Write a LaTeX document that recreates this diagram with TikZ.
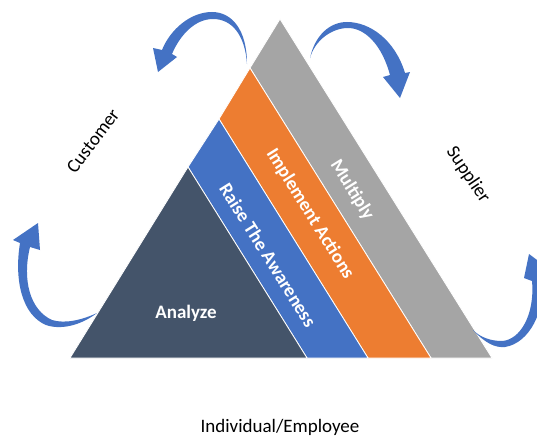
\documentclass[tikz,border=0pt]{standalone}
\usepackage{fontspec}
\setmainfont{Carlito}
\definecolor{cdark}{HTML}{44546A}
\definecolor{cblue}{HTML}{4472C4}
\definecolor{corange}{HTML}{ED7D31}
\definecolor{cgray}{HTML}{A5A5A5}
\begin{document}
\begin{tikzpicture}[x=1pt,y=-1pt,
  band/.style={draw=white, line width=0.8pt, line join=round},
  curarrow/.style={fill=cblue},
  bandlabel/.style={text=white, font=\fontsize{19}{23}\selectfont\bfseries, inner sep=0pt},
  sidelabel/.style={text=black, font=\fontsize{19}{23}\selectfont, inner sep=0pt}]
\clip (0,0) rectangle (537,436);
\fill[white] (0,0) rectangle (537,436);
% pyramid layers
\path[band, fill=cgray]   (250,68) -- (280,19) -- (492,358) -- (431,358) -- cycle;
\path[band, fill=corange] (219,119) -- (250,68) -- (431,358) -- (368,358) -- cycle;
\path[band, fill=cblue]   (188,167) -- (219,119) -- (368,358) -- (307,358) -- cycle;
\path[band, fill=cdark]   (70,358) -- (188,167) -- (307,358) -- cycle;
% labels
\node[bandlabel] (analyze) at (186,313) {Analyze};
\node[bandlabel, rotate=-58] (raise) at (268,255) {Raise The Awareness};
\node[bandlabel, rotate=-58] (impl) at (310,214) {Implement Actions};
\node[bandlabel, rotate=-58] (mult) at (352,190) {Multiply};
\node[sidelabel, rotate=53] (cust) at (93,141) {Customer};
\node[sidelabel, rotate=-56] (supp) at (468,175) {Supplier};
\node[sidelabel, anchor=base] (indiv) at (280,432) {Individual/Employee};
% curved arrows
% top-left
\path[curarrow] (247,64) .. controls (247,30) and (232,12) .. (212,12)
  .. controls (190,12) and (170,30) .. (162,50)
  -- (153,48) -- (158,72) -- (177,57) -- (172,54)
  .. controls (180,35) and (195,19) .. (213,19)
  .. controls (232,19) and (245,35) .. (247,64) -- cycle;
% top-right
\path[curarrow] (310,58) .. controls (315,35) and (330,22) .. (347,22)
  .. controls (370,22) and (395,40) .. (405,73)
  -- (410,72) -- (400,98) -- (383,77) -- (390,75)
  .. controls (382,45) and (365,28) .. (348,28)
  .. controls (332,28) and (315,40) .. (310,58) -- cycle;
% left
\path[curarrow] (97,313) .. controls (80,326) and (60,330) .. (46,325)
  .. controls (22,315) and (14,280) .. (20,243)
  -- (13,240) -- (38,223) -- (40,250) -- (30,247)
  .. controls (22,280) and (30,310) .. (52,320)
  .. controls (65,324) and (82,320) .. (97,313) -- cycle;
% right
\path[curarrow] (473,330) .. controls (485,343) and (495,348) .. (505,347)
  .. controls (530,343) and (545,310) .. (542,282)
  -- (553,272) -- (529,254) -- (524,278) -- (532,281)
  .. controls (535,315) and (520,340) .. (502,341)
  .. controls (490,341) and (480,337) .. (473,330) -- cycle;
\end{tikzpicture}
\end{document}
